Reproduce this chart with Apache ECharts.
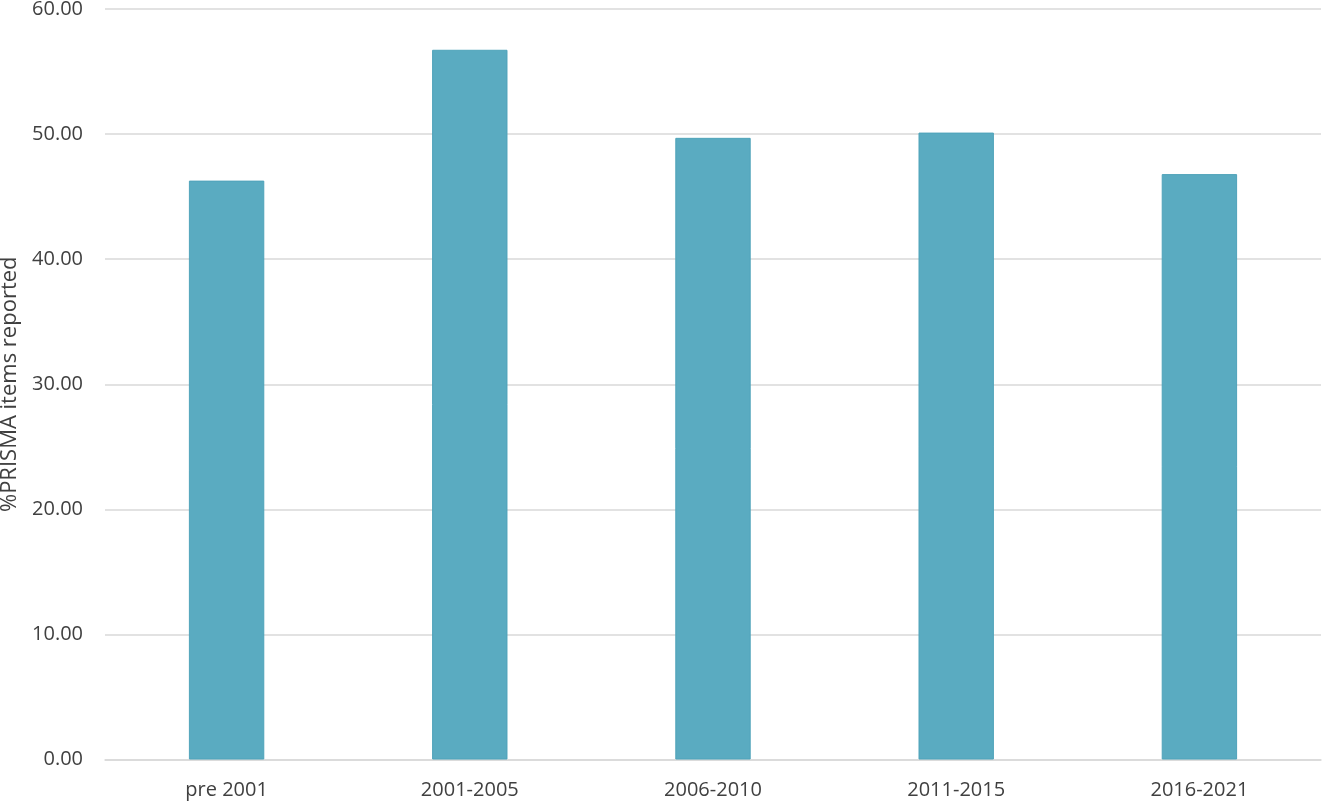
<!DOCTYPE html>
<html>
<head>
<meta charset="utf-8">
<script src="https://cdn.jsdelivr.net/npm/echarts@6/dist/echarts.min.js"></script>
<style>
html,body{margin:0;padding:0;background:#fff;}
#chart{width:1323px;height:801px;}
</style>
</head>
<body>
<div id="chart"></div>
<script>
const categories = ['pre 2001', '2001-2005', '2006-2010', '2011-2015', '2016-2021'];
const values = [46.28, 56.74, 49.70, 50.12, 46.80];
const yAxisName = '%PRISMA items reported';

const chart = echarts.init(document.getElementById('chart'));
chart.setOption({
  animation: false,
  grid: { left: 105, right: 2, top: 9, bottom: 41.5, containLabel: false, outerBoundsMode: 'none' },
  xAxis: {
    type: 'category',
    data: categories,
    axisTick: { show: false },
    axisLine: { show: true, lineStyle: { color: '#d9d9d9', width: 1.5 } },
    axisLabel: { color: '#404040', fontSize: 20, fontFamily: 'Open Sans', margin: 21 }
  },
  yAxis: {
    type: 'value',
    min: 0, max: 60, interval: 10,
    name: yAxisName,
    nameLocation: 'middle',
    nameGap: 81,
    nameTextStyle: { color: '#404040', fontSize: 22, fontFamily: 'Open Sans' },
    axisLine: { show: false },
    axisTick: { show: false },
    axisLabel: {
      color: '#404040', fontSize: 20, fontFamily: 'Open Sans', margin: 22,
      formatter: v => v.toFixed(2)
    },
    splitLine: { lineStyle: { color: '#d9d9d9', width: 1.5 } }
  },
  series: [{
    type: 'bar',
    data: values,
    barWidth: '31%',
    itemStyle: { color: '#5aabc1', borderColor: '#4fa3ba', borderWidth: 1 }
  }]
});
</script>
</body>
</html>
